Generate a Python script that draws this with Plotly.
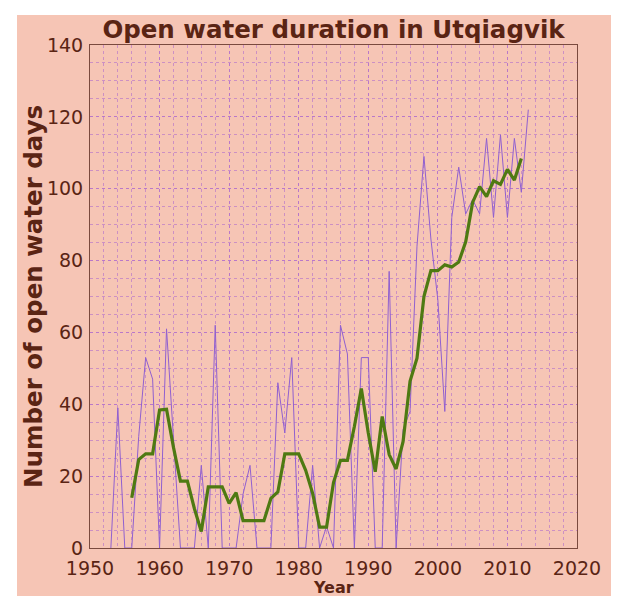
import plotly.graph_objects as go

years = list(range(1953, 2014))
open_water_days = [0, 39, 0, 0, 31, 53, 47, 0, 61, 32,
                   0, 0, 0, 23, 0, 62, 0, 0, 0, 15,
                   23, 0, 0, 0, 46, 32, 53, 0, 0, 23,
                   0, 6, 0, 62, 54, 0, 53, 53, 0, 0,
                   77, 0, 33, 38, 84, 109, 86, 69, 38, 92,
                   106, 93, 97, 93, 114, 92, 115, 92, 114, 99,
                   122]

avg_years = list(range(1956, 2013))
avg_days = [14.0, 24.6, 26.2, 26.2, 38.4, 38.6, 28.0, 18.6, 18.6, 11.0,
            4.6, 17.0, 17.0, 17.0, 12.4, 15.4, 7.6, 7.6, 7.6, 7.6,
            13.8, 15.6, 26.2, 26.2, 26.2, 21.6, 15.2, 5.8, 5.8, 18.2,
            24.4, 24.4, 33.8, 44.4, 32.0, 21.2, 36.6, 26.0, 22.0, 29.6,
            46.4, 52.8, 70.0, 77.2, 77.2, 78.8, 78.2, 79.6, 85.2, 96.2,
            100.6, 97.8, 102.2, 101.2, 105.4, 102.4, 108.4]

x_ticks = [1950, 1960, 1970, 1980, 1990, 2000, 2010, 2020]
y_ticks = [0, 20, 40, 60, 80, 100, 120, 140]

BG = "#F6C5B5"
TXT = "#5A2414"
AX = "#7A4A3E"
GRID = "rgba(170,100,205,0.55)"

W, H = 619, 596
L, R, T, B = 82, 50, 37, 56
pw, ph = W - L - R, H - T - B

fig = go.Figure()
fig.add_trace(go.Scatter(x=years, y=open_water_days, mode="lines",
                         line=dict(color="#9060D0", width=1), hoverinfo="skip"))
fig.add_trace(go.Scatter(x=avg_years, y=avg_days, mode="lines",
                         line=dict(color="#4E7A12", width=3.2), hoverinfo="skip"))

def px2x(p):
    return (p - L) / pw

def py2y(p):
    return (H - B - p) / ph

fig.add_shape(type="rect", xref="paper", yref="paper", layer="below",
              x0=px2x(9), x1=px2x(612), y0=py2y(592), y1=py2y(7),
              fillcolor=BG, line=dict(width=0))

fig.add_annotation(text="<b>Number of open water days</b>", xref="paper", yref="paper",
                   x=px2x(25), y=py2y(289), xanchor="center", yanchor="middle",
                   textangle=-90, showarrow=False,
                   font=dict(family="DejaVu Sans", size=24.5, color=TXT))
fig.add_annotation(text="<b>Year</b>", xref="paper", yref="paper",
                   x=px2x(L + pw / 2), y=py2y(579), xanchor="center", yanchor="middle",
                   showarrow=False,
                   font=dict(family="DejaVu Sans", size=16, color=TXT))

axis_common = dict(showline=True, linecolor=AX, linewidth=1, mirror=True,
                   zeroline=False, showgrid=True, gridcolor=GRID, griddash="dot",
                   gridwidth=1, ticks="",
                   tickfont=dict(family="DejaVu Sans", size=19, color=TXT))

fig.update_layout(
    width=W, height=H,
    margin=dict(l=L, r=R, t=T, b=B),
    paper_bgcolor="white",
    plot_bgcolor=BG,
    showlegend=False,
    title=dict(text="<b>Open water duration in Utqiagvik</b>", x=(L + pw / 2) / W, xanchor="center",
               y=1 - 21 / H, yanchor="middle",
               font=dict(family="DejaVu Sans", size=24.5, color=TXT)),
    xaxis=dict(range=[1950, 2020], tickvals=x_ticks, ticktext=[str(v) for v in x_ticks],
               minor=dict(dtick=2, tick0=1950, showgrid=True, gridcolor=GRID, griddash="dot"),
               ticklabelstandoff=3,
               **axis_common),
    yaxis=dict(range=[0, 140], tickvals=y_ticks, ticktext=[str(v) for v in y_ticks],
               minor=dict(dtick=5, tick0=0, showgrid=True, gridcolor=GRID, griddash="dot"),
               ticklabelstandoff=2,
               **axis_common),
)

fig.write_html("out.html")
